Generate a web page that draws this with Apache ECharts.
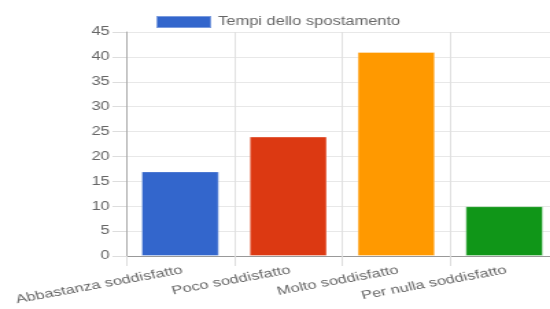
<!DOCTYPE html>
<html lang="en">
<head>
  <meta charset="UTF-8">
  <title>Tempi dello spostamento</title>
  <script src="https://cdn.jsdelivr.net/npm/echarts@6/dist/echarts.min.js"></script>
  <style>
    html, body { margin: 0; padding: 0; background: #fff; overflow: hidden; }
    #wrap { width: 550px; height: 309px; overflow: hidden; }
    /* the reference is a chart stretched sideways, so draw narrow and widen it */
    #chart { width: 401px; height: 309px; transform: scaleX(1.3716); transform-origin: 0 0; }
  </style>
</head>
<body>
<div id="wrap"><div id="chart"></div></div>
<script>
  var categories = ['Abbastanza soddisfatto', 'Poco soddisfatto', 'Molto soddisfatto', 'Per nulla soddisfatto'];
  var values = [17, 24, 41, 10];
  var barColors = ['#3366cc', '#dc3912', '#ff9900', '#109618'];
  var seriesName = 'Tempi dello spostamento';

  var myChart = echarts.init(document.getElementById('chart'));

  var option = {
    animation: false,
    textStyle: { fontFamily: 'Liberation Sans, Arial, sans-serif' },
    legend: {
      top: 10,
      left: 108,
      icon: 'rect',
      itemWidth: 40,
      itemHeight: 12,
      textStyle: { color: '#666', fontSize: 12 },
      data: [{ name: seriesName, itemStyle: { color: '#3366cc' } }]
    },
    // last category runs past the right edge, as in the reference
    grid: { left: 92, width: 315, top: 32, bottom: 53, outerBoundsMode: 'none' },
    xAxis: {
      type: 'category',
      data: categories,
      axisLine: { lineStyle: { color: '#999', width: 1 } },
      axisTick: { show: true, length: 10, lineStyle: { color: '#ddd' } },
      splitLine: { show: true, lineStyle: { color: '#e0e0e0' } },
      axisLabel: {
        rotate: 14,
        interval: 0,
        color: '#666',
        fontSize: 12,
        margin: 8,
        verticalAlign: 'top'
      }
    },
    yAxis: {
      type: 'value',
      min: 0,
      max: 45,
      interval: 5,
      axisLine: { show: true, lineStyle: { color: '#aaa', width: 1 } },
      axisTick: { show: true, length: 10, lineStyle: { color: '#ddd' } },
      splitLine: { lineStyle: { color: '#e8e8e8' } },
      axisLabel: { color: '#666', fontSize: 12, margin: 12 }
    },
    series: [{
      name: seriesName,
      type: 'bar',
      barWidth: '72%',
      data: values.map(function (v, i) {
        return { value: v, itemStyle: { color: barColors[i] } };
      }),
      itemStyle: { borderColor: 'rgba(255,255,255,0.35)', borderWidth: 1 }
    }]
  };

  myChart.setOption(option);
</script>
</body>
</html>
